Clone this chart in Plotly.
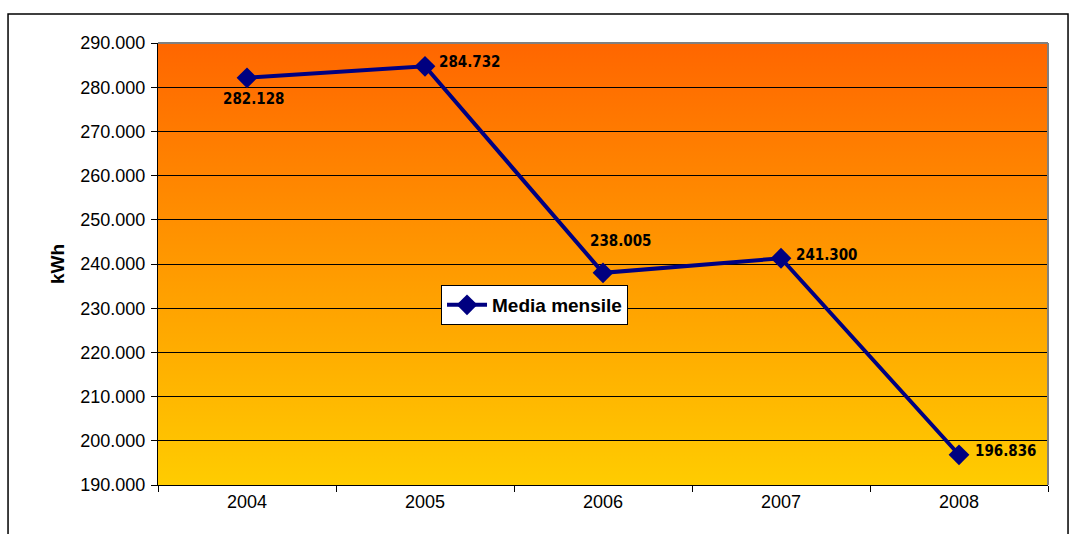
import base64
import plotly.graph_objects as go

# ---- data ----
years = ["2004", "2005", "2006", "2007", "2008"]
media_mensile = [282128, 284732, 238005, 241300, 196836]
series_name = "Media mensile"
y_title = "kWh"

# label placement (xshift, yshift, xanchor) per point
label_place = [(6, -21, "center"), (12, 4, "left"), (17, 32, "center"),
               (13, 3, "left"), (14, 4, "left")]

def it_fmt(v):
    return f"{v:,}".replace(",", ".")

fig = go.Figure()
fig.add_trace(go.Scatter(
    x=years, y=media_mensile, mode="lines+markers", name=series_name,
    line=dict(color="#000080", width=4),
    marker=dict(symbol="diamond", size=16, color="#000080"),
))

# gradient background image (orange top -> yellow bottom)
svg = ('<svg xmlns="http://www.w3.org/2000/svg" width="100" height="100" preserveAspectRatio="none">'
       '<defs><linearGradient id="g" x1="0" y1="0" x2="0" y2="1">'
       '<stop offset="0" stop-color="#FF6600"/><stop offset="1" stop-color="#FFCC00"/>'
       '</linearGradient></defs><rect width="100" height="100" fill="url(#g)"/></svg>')
src = "data:image/svg+xml;base64," + base64.b64encode(svg.encode()).decode()

shapes = []
# gray plot border (top and right)
shapes.append(dict(type="line", xref="x domain", yref="y domain", x0=0, x1=1, y0=1, y1=1,
                   line=dict(color="#808080", width=2), layer="above"))
shapes.append(dict(type="line", xref="x domain", yref="y domain", x0=1, x1=1, y0=0, y1=1,
                   line=dict(color="#808080", width=2), layer="above"))
# outer chart frame
shapes.append(dict(type="rect", xref="paper", yref="paper", x0=-0.1685, x1=1.0225,
                   y0=-0.3, y1=1.0656, line=dict(color="#000000", width=1.5),
                   fillcolor="rgba(0,0,0,0)", layer="above"))

annotations = []
for i, (v, (dx, dy, xa)) in enumerate(zip(media_mensile, label_place)):
    annotations.append(dict(x=i, y=v, xref="x", yref="y", text=it_fmt(v),
                            showarrow=False, xshift=dx, yshift=dy, xanchor=xa,
                            yanchor="middle",
                            font=dict(family="DejaVu Sans Condensed, DejaVu Sans", size=15,
                                      color="#000000", weight="bold")))

fig.update_layout(
    width=1074, height=534,
    margin=dict(l=158, r=26, t=43, b=49),
    paper_bgcolor="white", plot_bgcolor="rgba(0,0,0,0)",
    separators=",.",
    font=dict(family="Liberation Sans", size=18, color="#000000"),
    shapes=shapes, annotations=annotations,
    images=[dict(source=src, xref="x domain", yref="y domain", x=0, y=1,
                 sizex=1, sizey=1, xanchor="left", yanchor="top",
                 sizing="stretch", layer="below")],
    showlegend=True,
    legend=dict(x=0.318, y=0.4525, xanchor="left", yanchor="top",
                bgcolor="white", bordercolor="#000000", borderwidth=1,
                font=dict(family="Liberation Sans", size=19, color="#000000", weight="bold"),
                itemwidth=40, tracegroupgap=0),
    xaxis=dict(type="category", tickson="boundaries", ticks="outside", ticklen=6,
               tickcolor="#000000", showgrid=False, showline=True, linecolor="#000000",
               linewidth=1, range=[-0.5, 4.5], zeroline=False),
    yaxis=dict(range=[190000, 290000], dtick=10000, tickformat=",", ticks="outside",
               ticklen=6, tickcolor="#000000", showgrid=True, gridcolor="#000000",
               gridwidth=1, showline=True, linecolor="#000000", linewidth=1,
               zeroline=False, ticklabelstandoff=2,
               title=dict(text=y_title, standoff=10,
                          font=dict(family="Liberation Sans", size=19, weight="bold"))),
)

fig.write_html("out.html")
